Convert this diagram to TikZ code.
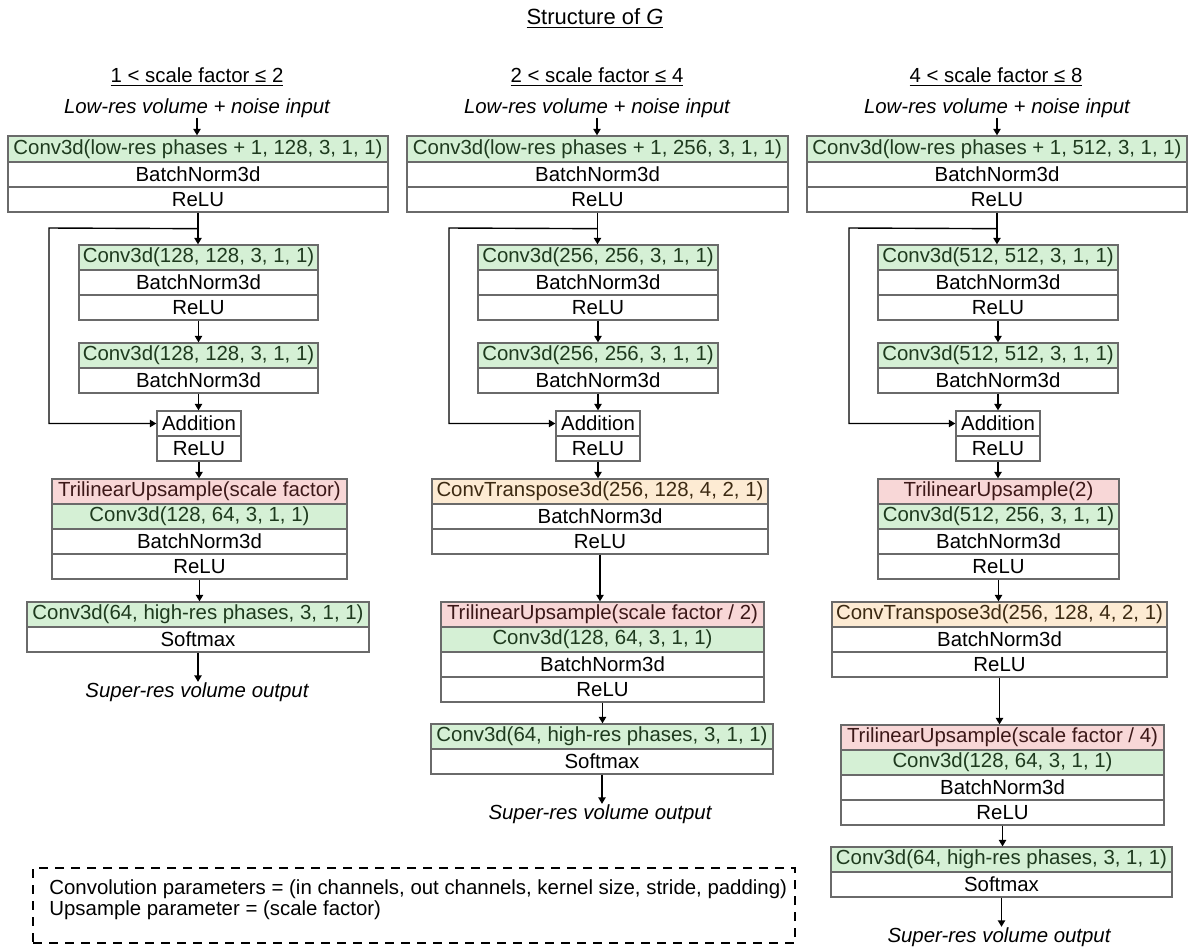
\documentclass[tikz,border=0pt]{standalone}
\usepackage{fontspec}
\setmainfont{Liberation Sans}
\usetikzlibrary{arrows.meta,calc}
\definecolor{gfill}{HTML}{D5F0D5}
\definecolor{pfill}{HTML}{F8D7D7}
\definecolor{ofill}{HTML}{FDEBD3}
\definecolor{gtext}{HTML}{1E3A1E}
\definecolor{ptext}{HTML}{3C1818}
\definecolor{otext}{HTML}{3C2A12}
\definecolor{bcol}{HTML}{6A6A6A}
\newcommand{\myfs}{\fontsize{10.2}{12}\selectfont}
\newcommand{\rb}[7]{\node[#2, minimum width={(#4-#3)*0.5pt}, minimum height={(#6-#5)*0.5pt}] (#1) at ({(#3+#4)/2},{(#5+#6)/2}) {#7};}
\tikzset{
  rowbox/.style={draw=bcol, line width=0.65pt, inner sep=0pt, font=\myfs, fill=white, text=black},
  greenrow/.style={rowbox, fill=gfill, text=gtext},
  pinkrow/.style={rowbox, fill=pfill, text=ptext},
  orangerow/.style={rowbox, fill=ofill, text=otext},
  arr/.style={draw=black, line width=0.7pt, -{Triangle[length=3.2pt,width=3.6pt]}},
  lbl/.style={inner sep=0pt, font=\myfs, anchor=base},
  ilbl/.style={lbl, font=\myfs\itshape},
}
\begin{document}
\begin{tikzpicture}[x=0.5pt, y=-0.5pt]
\useasboundingbox (0,0) rectangle (1192,949);

% title
\node[lbl, font=\fontsize{11}{13}\selectfont] (title) at (595,24) {\underline{Structure of \textit{G}}};

% ---------------- column 1 ----------------
\node[lbl] (ahead) at (197,82) {\underline{1 < scale factor ≤ 2}};
\node[ilbl] (ain) at (197,113) {Low-res volume + noise input};
\rb{a11}{greenrow}{8}{388}{136}{162}{Conv3d(low-res phases + 1, 128, 3, 1, 1)}
\rb{a12}{rowbox}{8}{388}{162}{187}{BatchNorm3d}
\rb{a13}{rowbox}{8}{388}{187}{212}{ReLU}
\rb{a21}{greenrow}{79}{318}{245}{270}{Conv3d(128, 128, 3, 1, 1)}
\rb{a22}{rowbox}{79}{318}{270}{295}{BatchNorm3d}
\rb{a23}{rowbox}{79}{318}{295}{320}{ReLU}
\rb{a31}{greenrow}{79}{318}{343}{368}{Conv3d(128, 128, 3, 1, 1)}
\rb{a32}{rowbox}{79}{318}{368}{393}{BatchNorm3d}
\rb{a41}{rowbox}{157}{241}{411}{436}{Addition}
\rb{a42}{rowbox}{157}{241}{436}{461}{ReLU}
\rb{a51}{pinkrow}{52}{347}{479}{504}{TrilinearUpsample(scale factor)}
\rb{a52}{greenrow}{52}{347}{504}{529}{Conv3d(128, 64, 3, 1, 1)}
\rb{a53}{rowbox}{52}{347}{529}{554}{BatchNorm3d}
\rb{a54}{rowbox}{52}{347}{554}{579}{ReLU}
\rb{a61}{greenrow}{27}{369}{602}{627}{Conv3d(64, high-res phases, 3, 1, 1)}
\rb{a62}{rowbox}{27}{369}{627}{652}{Softmax}
\node[ilbl] (aout) at (197,697) {Super-res volume output};

\draw[arr] (ain.south) -- (ain.south |- a11.north);
\draw[arr] (a13.south) -- (a13.south |- a21.north);
\coordinate (aj) at ($(a13.south)+(0,16)$);
\coordinate (ak) at (49,228);
\draw[arr] (aj) -- (ak) |- (a41.west);
\draw[arr] (a23.south) -- (a23.south |- a31.north);
\draw[arr] (a32.south) -- (a32.south |- a41.north);
\draw[arr] (a42.south) -- (a42.south |- a51.north);
\draw[arr] (a54.south) -- (a54.south |- a61.north);
\draw[arr] (a62.south) -- (a62.south |- aout.north);

% ---------------- column 2 ----------------
\node[lbl] (bhead) at (597,82) {\underline{2 < scale factor ≤ 4}};
\node[ilbl] (bin) at (597,113) {Low-res volume + noise input};
\rb{b11}{greenrow}{407}{788}{136}{162}{Conv3d(low-res phases + 1, 256, 3, 1, 1)}
\rb{b12}{rowbox}{407}{788}{162}{187}{BatchNorm3d}
\rb{b13}{rowbox}{407}{788}{187}{212}{ReLU}
\rb{b21}{greenrow}{478}{718}{245}{270}{Conv3d(256, 256, 3, 1, 1)}
\rb{b22}{rowbox}{478}{718}{270}{295}{BatchNorm3d}
\rb{b23}{rowbox}{478}{718}{295}{320}{ReLU}
\rb{b31}{greenrow}{478}{718}{343}{368}{Conv3d(256, 256, 3, 1, 1)}
\rb{b32}{rowbox}{478}{718}{368}{393}{BatchNorm3d}
\rb{b41}{rowbox}{556}{640}{411}{436}{Addition}
\rb{b42}{rowbox}{556}{640}{436}{461}{ReLU}
\rb{b51}{orangerow}{432}{768}{479}{504}{ConvTranspose3d(256, 128, 4, 2, 1)}
\rb{b52}{rowbox}{432}{768}{504}{529}{BatchNorm3d}
\rb{b53}{rowbox}{432}{768}{529}{554}{ReLU}
\rb{b61}{pinkrow}{441}{764}{602}{627}{TrilinearUpsample(scale factor / 2)}
\rb{b62}{greenrow}{441}{764}{627}{652}{Conv3d(128, 64, 3, 1, 1)}
\rb{b63}{rowbox}{441}{764}{652}{677}{BatchNorm3d}
\rb{b64}{rowbox}{441}{764}{677}{702}{ReLU}
\rb{b71}{greenrow}{431}{773}{724}{749}{Conv3d(64, high-res phases, 3, 1, 1)}
\rb{b72}{rowbox}{431}{773}{749}{774}{Softmax}
\node[ilbl] (bout) at (600,819) {Super-res volume output};

\draw[arr] (bin.south) -- (bin.south |- b11.north);
\draw[arr] (b13.south) -- (b13.south |- b21.north);
\coordinate (bj) at ($(b13.south)+(0,16)$);
\coordinate (bk) at (449,228);
\draw[arr] (bj) -- (bk) |- (b41.west);
\draw[arr] (b23.south) -- (b23.south |- b31.north);
\draw[arr] (b32.south) -- (b32.south |- b41.north);
\draw[arr] (b42.south) -- (b42.south |- b51.north);
\draw[arr] (b53.south) -- (b53.south |- b61.north);
\draw[arr] (b64.south) -- (b64.south |- b71.north);
\draw[arr] (b72.south) -- (b72.south |- bout.north);

% ---------------- column 3 ----------------
\node[lbl] (chead) at (996,82) {\underline{4 < scale factor ≤ 8}};
\node[ilbl] (cin) at (997,113) {Low-res volume + noise input};
\rb{c11}{greenrow}{807}{1187}{136}{162}{Conv3d(low-res phases + 1, 512, 3, 1, 1)}
\rb{c12}{rowbox}{807}{1187}{162}{187}{BatchNorm3d}
\rb{c13}{rowbox}{807}{1187}{187}{212}{ReLU}
\rb{c21}{greenrow}{878}{1118}{245}{270}{Conv3d(512, 512, 3, 1, 1)}
\rb{c22}{rowbox}{878}{1118}{270}{295}{BatchNorm3d}
\rb{c23}{rowbox}{878}{1118}{295}{320}{ReLU}
\rb{c31}{greenrow}{878}{1118}{343}{368}{Conv3d(512, 512, 3, 1, 1)}
\rb{c32}{rowbox}{878}{1118}{368}{393}{BatchNorm3d}
\rb{c41}{rowbox}{956}{1040}{411}{436}{Addition}
\rb{c42}{rowbox}{956}{1040}{436}{461}{ReLU}
\rb{c51}{pinkrow}{878}{1119}{479}{504}{TrilinearUpsample(2)}
\rb{c52}{greenrow}{878}{1119}{504}{529}{Conv3d(512, 256, 3, 1, 1)}
\rb{c53}{rowbox}{878}{1119}{529}{554}{BatchNorm3d}
\rb{c54}{rowbox}{878}{1119}{554}{579}{ReLU}
\rb{c61}{orangerow}{832}{1167}{602}{627}{ConvTranspose3d(256, 128, 4, 2, 1)}
\rb{c62}{rowbox}{832}{1167}{627}{652}{BatchNorm3d}
\rb{c63}{rowbox}{832}{1167}{652}{677}{ReLU}
\rb{c71}{pinkrow}{841}{1164}{725}{750}{TrilinearUpsample(scale factor / 4)}
\rb{c72}{greenrow}{841}{1164}{750}{775}{Conv3d(128, 64, 3, 1, 1)}
\rb{c73}{rowbox}{841}{1164}{775}{800}{BatchNorm3d}
\rb{c74}{rowbox}{841}{1164}{800}{825}{ReLU}
\rb{c81}{greenrow}{831}{1172}{847}{872}{Conv3d(64, high-res phases, 3, 1, 1)}
\rb{c82}{rowbox}{831}{1172}{872}{897}{Softmax}
\node[ilbl] (cout) at (999,942) {Super-res volume output};

\draw[arr] (cin.south) -- (cin.south |- c11.north);
\draw[arr] (c13.south) -- (c13.south |- c21.north);
\coordinate (cj) at ($(c13.south)+(0,16)$);
\coordinate (ck) at (849,228);
\draw[arr] (cj) -- (ck) |- (c41.west);
\draw[arr] (c23.south) -- (c23.south |- c31.north);
\draw[arr] (c32.south) -- (c32.south |- c41.north);
\draw[arr] (c42.south) -- (c42.south |- c51.north);
\draw[arr] (c54.south) -- (c54.south |- c61.north);
\draw[arr] (c63.south) -- (c63.south |- c71.north);
\draw[arr] (c74.south) -- (c74.south |- c81.north);
\draw[arr] (c82.south) -- (c82.south |- cout.north);

% ---------------- legend ----------------
\node[draw=black, line width=0.75pt, dash pattern=on 4.5pt off 3.5pt, minimum width={762*0.5pt}, minimum height={75*0.5pt}, inner sep=0pt] (legend) at (414,905.5) {};
\node[lbl, anchor=base west] (leg1) at (49,894) {Convolution parameters = (in channels, out channels, kernel size, stride, padding)};
\node[lbl, anchor=base west] (leg2) at (49,915) {Upsample parameter = (scale factor)};
\end{tikzpicture}
\end{document}
